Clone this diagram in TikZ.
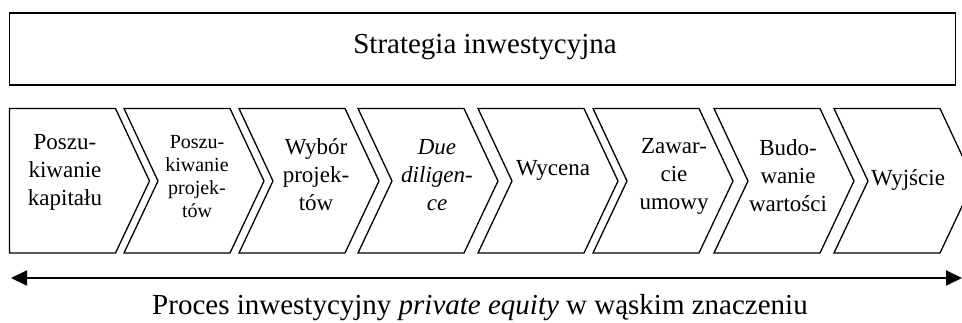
\documentclass[tikz,border=0pt]{standalone}
\usepackage{fontspec}
\setmainfont{Liberation Serif}
\usetikzlibrary{arrows.meta}
\begin{document}
\begin{tikzpicture}[x=1pt,y=-1pt,
  chev/.style={draw=black,line width=1.3pt,line join=miter},
  lbl/.style={align=center,font=\fontsize{23}{28}\selectfont,inner sep=0pt},
  lbls/.style={align=center,font=\fontsize{20}{23}\selectfont,inner sep=0pt},
  bigtxt/.style={font=\fontsize{29}{34}\selectfont,inner sep=0pt}]
\useasboundingbox (0,0) rectangle (962,323);
\clip (0,0) rectangle (962,323);
% top box
\node[draw=black,line width=1.6pt,minimum width=946pt,minimum height=72pt,inner sep=0pt] (strat) at (482.5,49) {};
\node[bigtxt] (strattxt) at (485,47) {Strategia inwestycyjna};
% chevrons
\def\T{108.5}\def\B{253}\def\M{181}\def\W{106}\def\D{34}
\draw[chev] (9.5,\T) -- ++(\W,0) -- ++(\D,\M-\T) -- (9.5+\W,\B) -- (9.5,\B) -- cycle;
\foreach \L in {124,239,358,478,593,714,834}{
  \draw[chev] (\L,\T) -- ++(\W,0) -- ++(\D,\M-\T) -- (\L+\W,\B) -- (\L,\B) -- (\L+\D,\M) -- cycle;
}
\node[lbl] (c1) at (65,172) {Poszu-\\kiwanie\\kapitału};
\node[lbls] (c2) at (197,177) {Poszu-\\kiwanie\\projek-\\tów};
\node[lbl] (c3) at (316,175) {Wybór\\projek-\\tów};
\node[lbl,font=\fontsize{23}{28}\selectfont\itshape] (c4) at (437,175) {Due\\diligen-\\ce};
\node[lbl] (c5) at (553,170) {Wycena};
\node[lbl] (c6) at (674,176) {Zawar-\\cie\\umowy};
\node[lbl] (c7) at (788,176) {Budo-\\wanie\\wartości};
\node[lbl] (c8) at (908,180) {Wyjście};
% arrow
\coordinate (al) at (11,278);
\coordinate (ar) at (962,278);
\draw[line width=1.8pt,{Triangle[length=16pt,width=15pt]}-{Triangle[length=16pt,width=15pt]}] (al) -- (ar);
\node[bigtxt] (proc) at (480,308) {Proces inwestycyjny \textit{private equity} w wąskim znaczeniu};
\end{tikzpicture}
\end{document}
